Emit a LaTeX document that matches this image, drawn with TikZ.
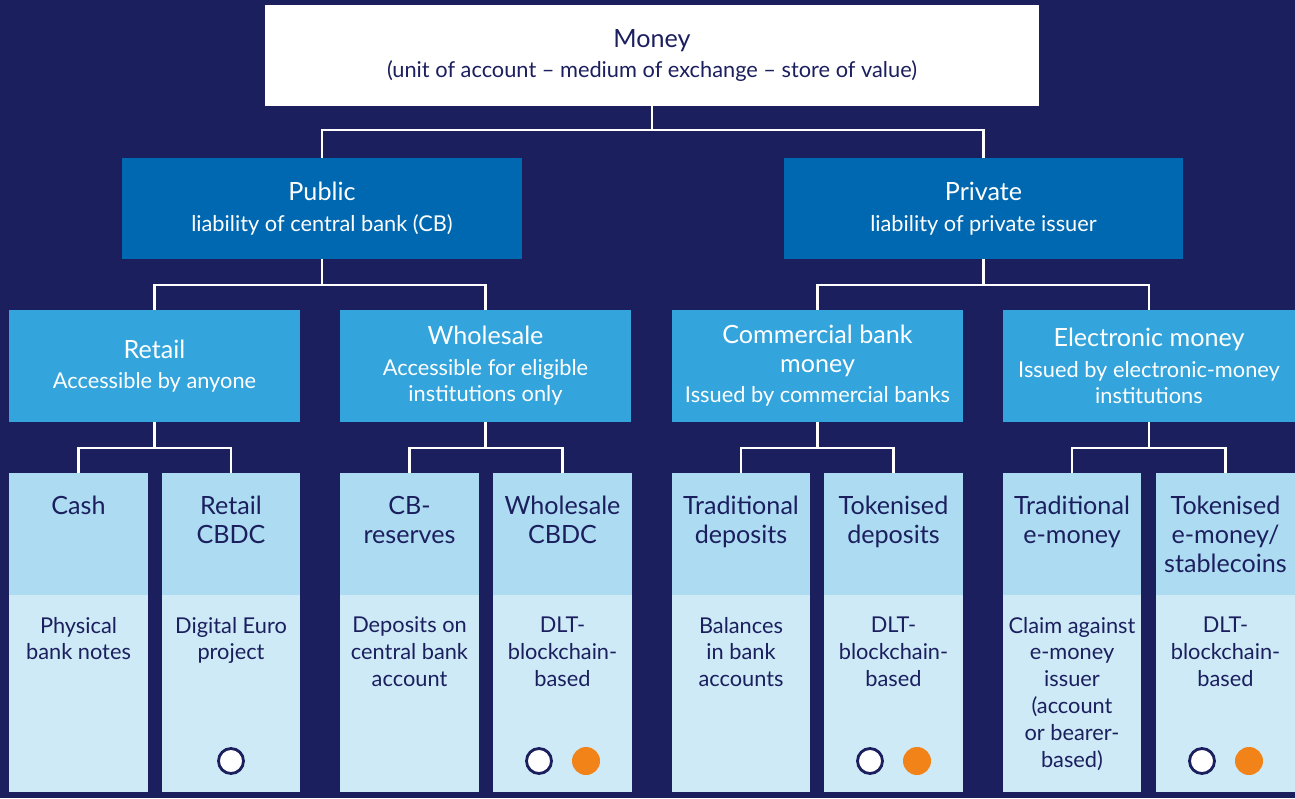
\documentclass[tikz,border=0pt]{standalone}
\usepackage{fontspec}
\setmainfont{Lato}
\usepackage{tikz}
\usetikzlibrary{positioning}

\definecolor{navy}{HTML}{1B1F5E}
\definecolor{midblue}{HTML}{0068B0}
\definecolor{lightblue}{HTML}{34A5DC}
\definecolor{paleblue}{HTML}{ADDBF1}
\definecolor{palerblue}{HTML}{CDEAF6}
\definecolor{dotorange}{HTML}{F28318}

\newcommand{\ttlfont}{\fontsize{14.3}{16}\selectfont}
\newcommand{\subfont}{\fontsize{12.4}{15}\selectfont}
\newcommand{\bodyfont}{\fontsize{12.4}{15.3}\selectfont}
\newcommand{\headfont}{\fontsize{14.3}{16.5}\selectfont}

\begin{document}
\begin{tikzpicture}[
        x=0.02cm, y=-0.02cm,
        every node/.style={inner sep=0pt, outer sep=0pt},
        moneybox/.style={rectangle, fill=white, text=navy, align=center, font=\subfont, minimum width=15.48cm, minimum height=2.02cm},
        sectorbox/.style={rectangle, fill=midblue, text=white, align=center, font=\subfont, minimum width=8cm, minimum height=2.02cm},
        typebox/.style={rectangle, fill=lightblue, text=white, align=center, font=\subfont, minimum width=5.83cm, minimum height=2.24cm},
        leafhead/.style={rectangle, fill=paleblue, anchor=north, minimum width=2.78cm, minimum height=2.44cm},
        leafbody/.style={rectangle, fill=palerblue, anchor=north, minimum width=2.78cm, minimum height=3.94cm},
        headtext/.style={anchor=north, align=center, text=navy, font=\headfont, yshift=-0.46cm},
        bodytext/.style={anchor=north, align=center, text=navy, font=\bodyfont, yshift=-0.44cm},
        conn/.style={draw=white, line width=1.2pt},
        ring/.style={circle, draw=navy, fill=white, line width=1.6pt, minimum size=0.5cm},
        dot/.style={circle, fill=dotorange, minimum size=0.56cm}
    ]
    \fill[navy] (0,0) rectangle (1295,798);

    % top
    \node[moneybox] (money) at (652,55.5) {{\ttlfont Money}\\[2.5pt](unit of account -- medium of exchange -- store of value)};

    % public / private
    \node[sectorbox] (public) at (322,208.5) {{\ttlfont Public}\\[2.5pt]liability of central bank (CB)};
    \node[sectorbox] (private) at (983.5,208.5) {{\ttlfont Private}\\[2.5pt]liability of private issuer};

    % types of money
    \node[typebox] (retail) at (154.5,366) {{\ttlfont Retail}\\[2.5pt]Accessible by anyone};
    \node[typebox] (wholesale) at (485.5,366) {{\ttlfont Wholesale}\\[2.5pt]Accessible for eligible\\institutions only};
    \node[typebox] (commercial) at (817.5,366) {{\ttlfont Commercial bank}\\[1pt]{\ttlfont money}\\[2.5pt]Issued by commercial banks};
    \node[typebox] (emoney) at (1149,366) {{\ttlfont Electronic money}\\[2.5pt]Issued by electronic-money\\institutions};

    % leaves
    \foreach \name/\x/\head/\body in {
        cash/78.5/Cash/{Physical\\bank notes},
        rcbdc/231/{Retail\\CBDC}/{Digital Euro\\project},
        reserves/409.5/{CB-\\reserves}/{Deposits on\\central bank\\account},
        wcbdc/562.5/{Wholesale\\CBDC}/{DLT-\\blockchain-\\based},
        tdeposits/741/{Traditional\\deposits}/{Balances\\in bank\\accounts},
        tokdeposits/893.5/{Tokenised\\deposits}/{DLT-\\blockchain-\\based},
        temoney/1072/{Traditional\\e-money}/{Claim against\\e-money\\issuer\\(account\\or bearer-\\based)},
        tokemoney/1225.5/{Tokenised\\e-money/\\stablecoins}/{DLT-\\blockchain-\\based}}{
        \node[leafhead] (\name) at (\x,473) {};
        \node[leafbody] (\name_body) at (\name.south) {};
        \node[headtext] (\name_head) at (\name.north) {\head};
        \node[bodytext] (\name_text) at (\name_body.north) {\body};
    }

    % markers
    \node[ring] (rcbdc_ring) at (231,761) {};
    \node[ring] (wcbdc_ring) at (539,761) {};
    \node[dot] (wcbdc_dot) at (586,761) {};
    \node[ring] (tokdeposits_ring) at (870,761) {};
    \node[dot] (tokdeposits_dot) at (917,761) {};
    \node[ring] (tokemoney_ring) at (1202,761) {};
    \node[dot] (tokemoney_dot) at (1249,761) {};

    % connectors
    \draw[conn] (money.south) -- ++(0,24) -| (public.north);
    \draw[conn] (money.south) -- ++(0,24) -| (private.north);
    \draw[conn] (public.south) -- ++(0,26) -| (retail.north);
    \draw[conn] (public.south) -- ++(0,26) -| (wholesale.north);
    \draw[conn] (private.south) -- ++(0,26) -| (commercial.north);
    \draw[conn] (private.south) -- ++(0,26) -| (emoney.north);
    \draw[conn] (retail.south) -- ++(0,26) -| (cash.north);
    \draw[conn] (retail.south) -- ++(0,26) -| (rcbdc.north);
    \draw[conn] (wholesale.south) -- ++(0,26) -| (reserves.north);
    \draw[conn] (wholesale.south) -- ++(0,26) -| (wcbdc.north);
    \draw[conn] (commercial.south) -- ++(0,26) -| (tdeposits.north);
    \draw[conn] (commercial.south) -- ++(0,26) -| (tokdeposits.north);
    \draw[conn] (emoney.south) -- ++(0,26) -| (temoney.north);
    \draw[conn] (emoney.south) -- ++(0,26) -| (tokemoney.north);
\end{tikzpicture}
\end{document}
